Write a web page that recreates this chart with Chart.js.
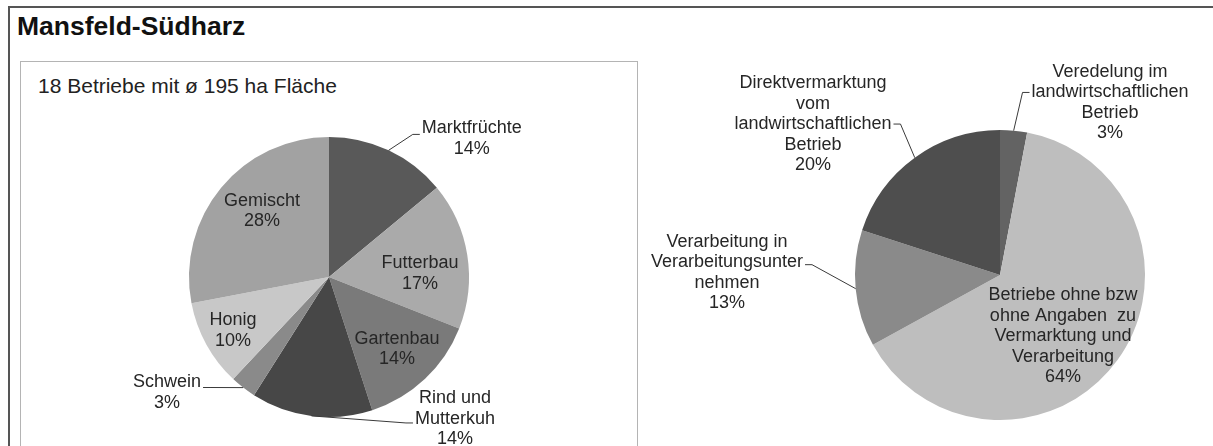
<!DOCTYPE html>
<html>
<head>
<meta charset="utf-8">
<script src="https://cdn.jsdelivr.net/npm/chart.js@4.4.1/dist/chart.umd.min.js"></script>
<style>
body { margin: 0; background: #fff; width: 1213px; height: 446px; overflow: hidden; position: relative; font-family: 'Liberation Sans', Arial, sans-serif; }
#frame { position: absolute; left: 8px; top: 6px; width: 1300px; height: 600px; border: 2px solid #555; }
#title { position: absolute; left: 17px; top: 13px; font-size: 26.5px; line-height: 26.5px; font-weight: bold; color: #111; }
#box { position: absolute; left: 20px; top: 61px; width: 616px; height: 500px; border: 1px solid #b4b4b4; }
#sub { position: absolute; left: 38px; top: 75px; font-size: 21px; line-height: 21px; color: #222; }
#leftWrap { position: absolute; left: 20px; top: 62px; width: 618px; height: 384px; }
#rightWrap { position: absolute; left: 640px; top: 40px; width: 573px; height: 406px; }
</style>
</head>
<body>
<div id="frame"></div>
<div id="title">Mansfeld-Südharz</div>
<div id="box"></div>
<div id="sub">18 Betriebe mit ø 195 ha Fläche</div>
<div id="leftWrap"><canvas id="leftChart"></canvas></div>
<div id="rightWrap"><canvas id="rightChart"></canvas></div>
<script>
// Betriebsform (links)
const leftCategories = ['Marktfrüchte', 'Futterbau', 'Gartenbau', 'Rind und Mutterkuh', 'Schwein', 'Honig', 'Gemischt'];
const leftValues = [14, 17, 14, 14, 3, 10, 28];
const leftLabelLines = [['Marktfrüchte'], ['Futterbau'], ['Gartenbau'], ['Rind und', 'Mutterkuh'], ['Schwein'], ['Honig'], ['Gemischt']];

// Vermarktung / Verarbeitung (rechts)
const rightCategories = ['Veredelung im landwirtschaftlichen Betrieb', 'Betriebe ohne bzw ohne Angaben zu Vermarktung und Verarbeitung', 'Verarbeitung in Verarbeitungsunternehmen', 'Direktvermarktung vom landwirtschaftlichen Betrieb'];
const rightValues = [3, 64, 13, 20];
const rightLabelLines = [['Veredelung im', 'landwirtschaftlichen', 'Betrieb'], ['Betriebe ohne bzw', 'ohne Angaben  zu', 'Vermarktung und', 'Verarbeitung'], ['Verarbeitung in', 'Verarbeitungsunter', 'nehmen'], ['Direktvermarktung', 'vom', 'landwirtschaftlichen', 'Betrieb']];

const leftColors = ['#595959', '#aaaaaa', '#7a7a7a', '#474747', '#8a8a8a', '#c8c8c8', '#a2a2a2'];
const rightColors = ['#636363', '#bebebe', '#8a8a8a', '#4e4e4e'];

// label placement relative to pie centre (in radius units), leader side and attach offset
const leftLabelPos = [
    { x: 1.02, y: -0.99, side: 'left', dy: -4 },
    { x: 0.65, y: -0.025 },
    { x: 0.486, y: 0.514 },
    { x: 0.9, y: 1.014, side: 'left', dy: 4 },
    { x: -1.157, y: 0.825, side: 'right', dy: -5 },
    { x: -0.686, y: 0.382 },
    { x: -0.479, y: -0.471 }
];
const rightLabelPos = [
    { x: 0.759, y: -1.19, side: 'left', dy: -10 },
    { x: 0.434, y: 0.421 },
    { x: -1.883, y: -0.016, side: 'right', dy: -8 },
    { x: -1.29, y: -1.041, side: 'right', dy: 0 }
];

const FONT = "18px 'Liberation Sans', Arial, sans-serif";
const LINE_H = 20.5;

const pieLabels = {
    id: 'pieLabels',
    afterDatasetsDraw(chart, args, opts) {
        const ctx = chart.ctx;
        const meta = chart.getDatasetMeta(0);
        const values = chart.data.datasets[0].data;
        ctx.save();
        ctx.font = FONT;
        ctx.textAlign = 'center';
        ctx.textBaseline = 'middle';
        meta.data.forEach((arc, i) => {
            const p = arc.getProps(['x', 'y', 'startAngle', 'endAngle', 'outerRadius'], true);
            const r = p.outerRadius;
            const pos = opts.positions[i];
            const lines = opts.lines[i].concat([values[i] + '%']);
            const cx = p.x + pos.x * r;
            const cy = p.y + pos.y * r;
            const top = cy - (lines.length - 1) / 2 * LINE_H;
            let w = 0;
            lines.forEach(t => { w = Math.max(w, ctx.measureText(t).width); });
            if (pos.side) {
                const mid = (p.startAngle + p.endAngle) / 2;
                const ax = p.x + Math.cos(mid) * r;
                const ay = p.y + Math.sin(mid) * r;
                const ex = pos.side === 'left' ? cx - w / 2 - 2 : cx + w / 2 + 2;
                const ey = cy + pos.dy;
                const tail = pos.side === 'left' ? -7 : 7;
                ctx.strokeStyle = '#3a3a3a';
                ctx.lineWidth = 1;
                ctx.beginPath();
                ctx.moveTo(ax, ay);
                ctx.lineTo(ex + tail, ey);
                ctx.lineTo(ex, ey);
                ctx.stroke();
            }
            ctx.fillStyle = '#262626';
            lines.forEach((t, j) => ctx.fillText(t, cx, top + j * LINE_H));
        });
        ctx.restore();
    }
};

function pieConfig(categories, values, colors, lines, positions, radius, padding) {
    return {
        type: 'pie',
        data: {
            labels: categories,
            datasets: [{ data: values, backgroundColor: colors, borderWidth: 0 }]
        },
        options: {
            responsive: false,
            animation: false,
            radius: radius,
            layout: { padding: padding },
            plugins: {
                legend: { display: false },
                tooltip: { enabled: false },
                pieLabels: { lines: lines, positions: positions }
            }
        },
        plugins: [pieLabels]
    };
}

document.addEventListener('DOMContentLoaded', function () {
    const lc = document.getElementById('leftChart');
    lc.width = 618; lc.height = 384;
    new Chart(lc, pieConfig(leftCategories, leftValues, leftColors, leftLabelLines, leftLabelPos, 140, { top: 46 }));

    const rc = document.getElementById('rightChart');
    rc.width = 573; rc.height = 406;
    new Chart(rc, pieConfig(rightCategories, rightValues, rightColors, rightLabelLines, rightLabelPos, 145, { left: 147, top: 64 }));
});
</script>
</body>
</html>
